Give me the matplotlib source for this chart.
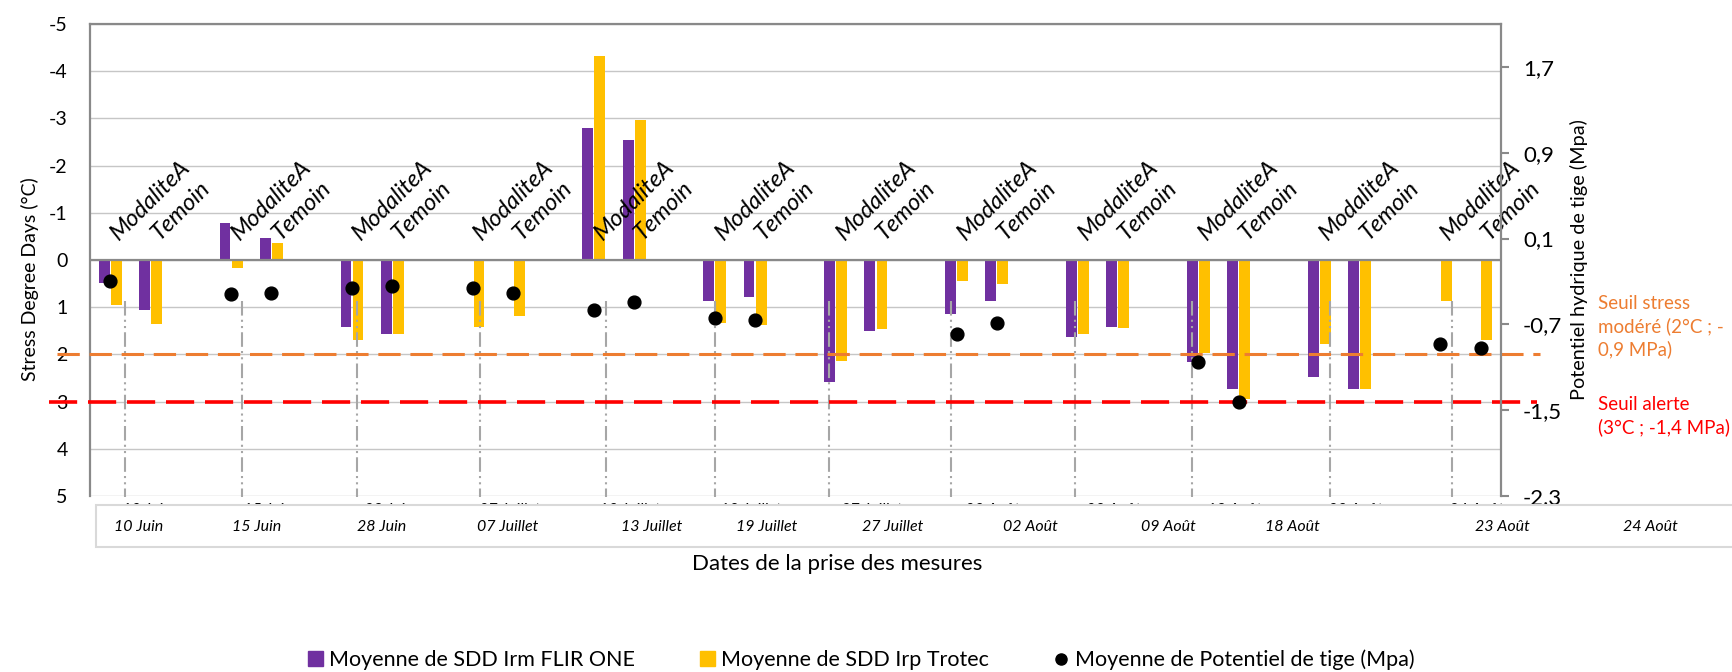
import matplotlib
matplotlib.use('Agg')
import matplotlib.pyplot as plt
from matplotlib.lines import Line2D
from matplotlib.patches import Patch, Rectangle
import numpy as np

plt.rcParams['font.family'] = ['Lato', 'DejaVu Sans']
plt.rcParams['axes.unicode_minus'] = False

dates = ['10 Juin', '15 Juin', '28 Juin', '07 Juillet', '13 Juillet', '19 Juillet',
         '27 Juillet', '02 Août', '09 Août', '18 Août', '23 Août', '24 Août']
modalites = ['ModaliteA', 'Temoin']

# Stress Degree Days (°C), une valeur par date
flir_modalite = [0.49, -0.78, 1.41, np.nan, -2.79, 0.86, 2.58, 1.14, 1.64, 2.17, 2.47, np.nan]
flir_temoin = [1.06, -0.46, 1.56, np.nan, -2.55, 0.78, 1.50, 0.87, 1.42, 2.74, 2.74, np.nan]
trotec_modalite = [0.96, 0.17, 1.70, 1.41, -4.33, 1.33, 2.15, 0.45, 1.57, 1.98, 1.77, 0.86]
trotec_temoin = [1.36, -0.36, 1.57, 1.18, -2.97, 1.37, 1.47, 0.50, 1.45, 2.95, 2.74, 1.69]

# Potentiel de tige (MPa)
potentiel_modalite = [-0.30, -0.42, -0.365, -0.36, -0.57, -0.64, np.nan, -0.79, np.nan, -1.05, np.nan, -0.88]
potentiel_temoin = [np.nan, -0.41, -0.34, -0.41, -0.49, -0.66, np.nan, -0.69, np.nan, -1.425, np.nan, -0.92]

seuil_stress = 2
seuil_alerte = 3

# traits verticaux repères (en unités de catégorie)
reperes = [0.37, 3.27, 6.13, 9.18, 12.30, 15.01, 17.84, 20.86, 23.94, 26.85, 30.27, 33.30]
# position des dates dans le cadre sous l'axe (pixels)
dates_cadre_x = [139, 257, 382, 508, 652, 767, 893, 1030, 1168, 1292, 1502, 1650]

VIOLET = '#7030A0'
JAUNE = '#FFC000'
GRIS = '#898989'

# 3 emplacements par date (ModaliteA, Temoin, vide)
x_pos = np.array([3 * k + j for k in range(len(dates)) for j in range(2)], dtype=float)
flir = np.ravel(np.column_stack([flir_modalite, flir_temoin]))
trotec = np.ravel(np.column_stack([trotec_modalite, trotec_temoin]))
potentiel = np.ravel(np.column_stack([potentiel_modalite, potentiel_temoin]))

fig = plt.figure(figsize=(17.33, 6.72), dpi=100)
ax = fig.add_axes([90 / 1733, 1 - 496 / 672, 1410.7 / 1733, 472 / 672])

ax.bar(x_pos - 0.15, flir, width=0.27, color=VIOLET, zorder=2)
ax.bar(x_pos + 0.15, trotec, width=0.27, color=JAUNE, zorder=2)

ax.set_xlim(-0.5, 3 * len(dates) - 1.5)
ax.set_ylim(5, -5)
ax.set_yticks(range(-5, 6))
ax.set_xticks([])
ax.yaxis.grid(True, color='#C6C6C6', lw=1.0)
ax.set_axisbelow(True)
ax.tick_params(axis='y', length=0, pad=16, labelsize=14)

ax.axhline(0, color=GRIS, lw=1.6, zorder=3)
for side in ['right', 'bottom']:
    ax.spines[side].set_visible(False)
for side in ['left', 'top']:
    ax.spines[side].set_color(GRIS)
    ax.spines[side].set_linewidth(1.6)

# repères verticaux
ax.vlines(reperes, 0.87, 5.03, colors='#A6A6A6', lw=1.5,
          linestyles=(0, (7, 2, 1, 2, 1, 2)), zorder=3, clip_on=False)

# seuils
l1 = ax.axhline(seuil_stress, xmin=-0.0234, xmax=1.028, color='#ED7D31', lw=2.2, zorder=4, clip_on=False)
l1.set_dashes((7.3, 3.2))
l2 = ax.axhline(seuil_alerte, xmin=-0.029, xmax=1.026, color='#FF0000', lw=2.6, zorder=4, clip_on=False)
l2.set_dashes((7.8, 3.0))

# étiquettes de catégories inclinées
for k in range(len(dates)):
    for j, nom in enumerate(modalites):
        ax.text(3 * k + j + 0.22, -0.41, nom, rotation=45, rotation_mode='anchor',
                ha='left', va='baseline', fontsize=17, style='italic', zorder=6)
    # étiquettes de dates de l'axe (masquées par le cadre)
    ax.text(3 * k + 0.9, 5.145, dates[k], ha='center', va='top', fontsize=11.5,
            style='italic', clip_on=False)

ax.set_ylabel('Stress Degree Days (°C)', fontsize=14)
ax.yaxis.set_label_coords(-0.036, 0.46)
ax.set_xlabel('Dates de la prise des mesures', fontsize=16)
ax.xaxis.set_label_coords(0.53, -0.122)

# axe secondaire : potentiel de tige
ax2 = ax.twinx()
ax2.scatter(x_pos, potentiel, s=85, color='black', zorder=5)
ax2.set_ylim(-2.3, 2.1)
ax2_ticks = [-2.3, -1.5, -0.7, 0.1, 0.9, 1.7]
ax2.set_yticks(ax2_ticks)
ax2.set_yticklabels([f'{v:.1f}'.replace('.', ',') for v in ax2_ticks])
ax2.tick_params(axis='y', length=6, width=1.5, color=GRIS, pad=10, labelsize=16)
for side in ['left', 'top', 'bottom']:
    ax2.spines[side].set_visible(False)
ax2.spines['right'].set_color(GRIS)
ax2.spines['right'].set_linewidth(1.6)
ax2.set_ylabel('Potentiel hydrique de tige (Mpa)', fontsize=14.3)
ax2.yaxis.set_label_coords(1.049, 0.50)

# cadre des dates
fig.patches.append(Rectangle((96 / 1733, 1 - 547 / 672), 1.0, 42 / 672,
                             transform=fig.transFigure, facecolor='white',
                             edgecolor='#D9D9D9', lw=1.5, zorder=1))
for d, px in zip(dates, dates_cadre_x):
    fig.text(px / 1733, 1 - 527 / 672, d, ha='center', va='center', fontsize=11.5,
             style='italic', zorder=2)

fig.text(1598 / 1733, 1 - 327 / 672, 'Seuil stress\nmodéré (2°C ; -\n0,9 MPa)',
         color='#ED7D31', fontsize=13.5, ha='left', va='center', linespacing=1.35)
fig.text(1598 / 1733, 1 - 416.5 / 672, 'Seuil alerte\n(3°C ; -1,4 MPa)',
         color='#FF0000', fontsize=13.5, ha='left', va='center', linespacing=1.35)

handles = [Patch(color=VIOLET), Patch(color=JAUNE),
           Line2D([], [], marker='o', color='black', ls='', markersize=8)]
labels = ['Moyenne de SDD Irm FLIR ONE', 'Moyenne de SDD Irp Trotec',
          'Moyenne de Potentiel de tige (Mpa)']
fig.legend(handles, labels, loc='center', bbox_to_anchor=(0.497, 1 - 660 / 672), ncol=3,
           frameon=False, fontsize=15.5, handlelength=0.7, handleheight=0.7,
           handletextpad=0.3, columnspacing=3.0)

fig.savefig('out.png', dpi=100)
